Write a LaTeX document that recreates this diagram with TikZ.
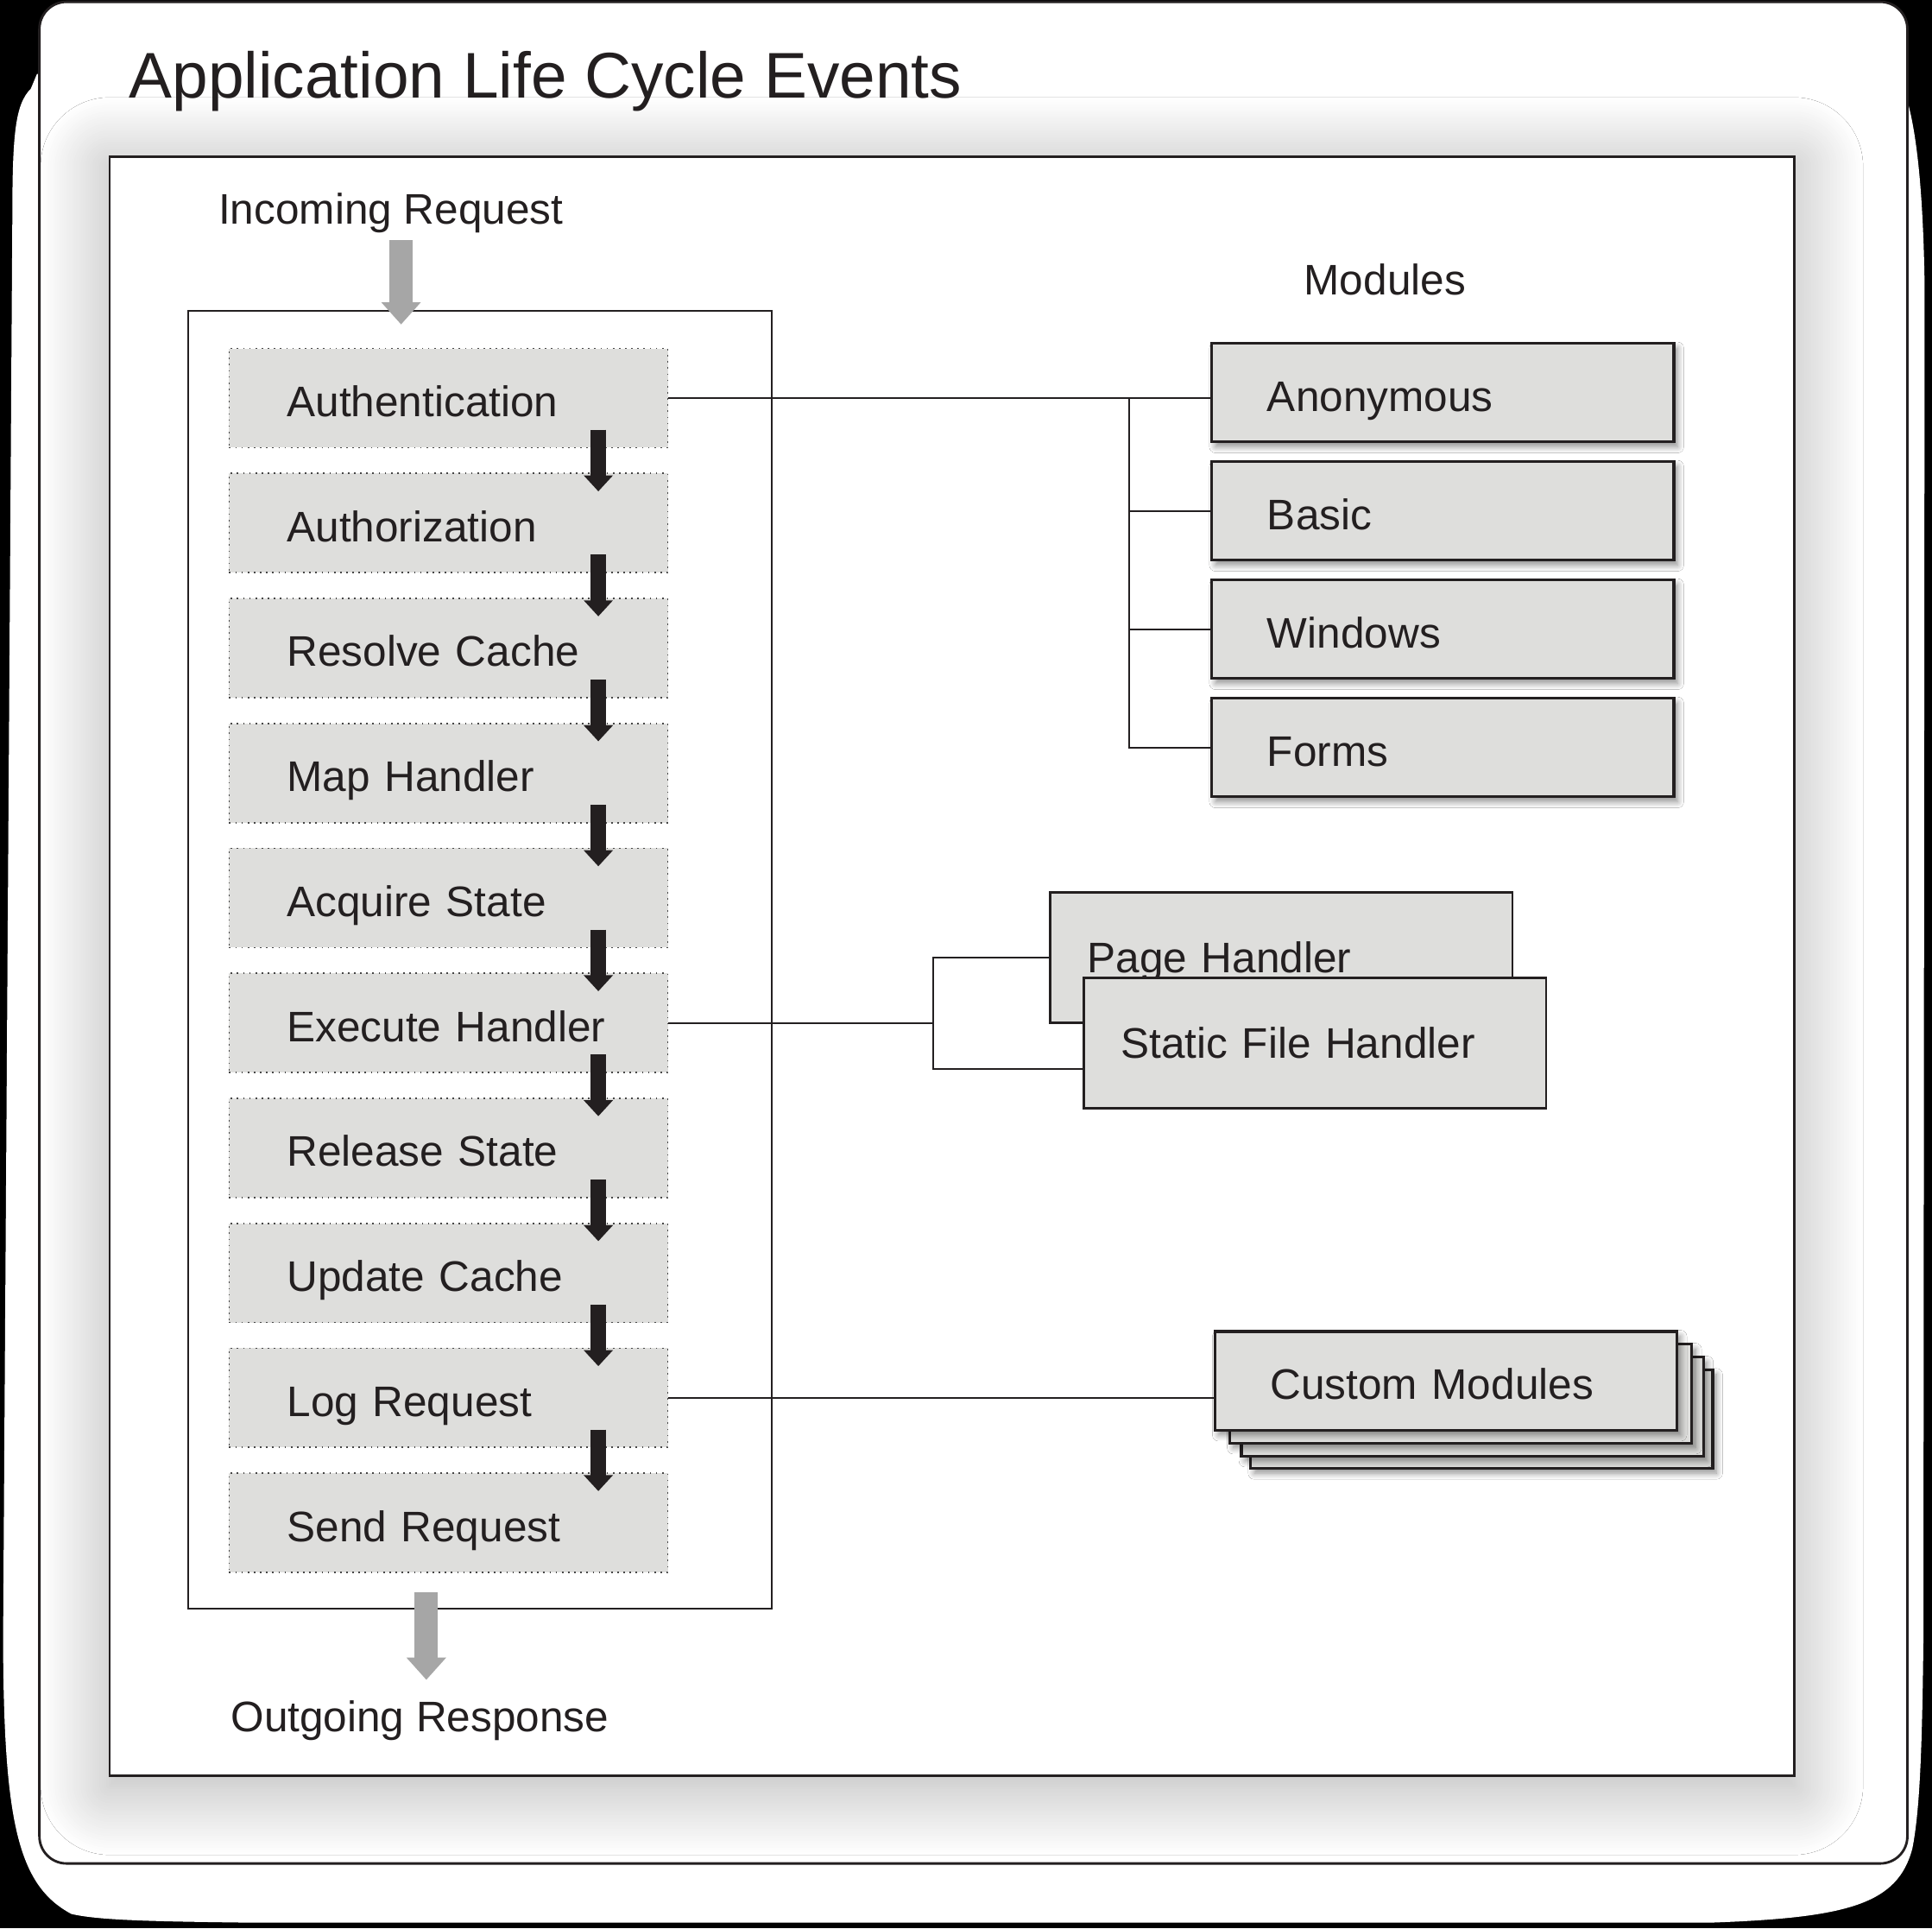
\documentclass[tikz,border=0pt]{standalone}
\usepackage{fontspec}
\setmainfont{Liberation Sans}
\usepackage{tikz}
\usetikzlibrary{arrows.meta, calc, shadows.blur}
\definecolor{ink}{RGB}{35,31,32}
\definecolor{boxgray}{RGB}{222,222,220}
\definecolor{dotgray}{RGB}{70,70,70}
\definecolor{arrowgray}{RGB}{166,166,166}
\newcommand{\bodyfont}{\fontsize{17.35pt}{20pt}\selectfont}
\newcommand{\titlefont}{\fontsize{26.2pt}{30pt}\selectfont}
\tikzstyle{stage} = [rectangle, minimum width=178pt, minimum height=40.25pt, text width=131pt, inner xsep=23.5pt, align=left, text height=15pt, text depth=0pt, font=\bodyfont, text=ink, fill=boxgray, draw=dotgray, line width=0.6pt, dash pattern=on 0.6pt off 1.9pt]
\tikzstyle{module} = [rectangle, minimum width=187.5pt, minimum height=40pt, text width=142.5pt, inner xsep=22.5pt, align=left, text height=15pt, text depth=0pt, font=\bodyfont, text=ink, fill=boxgray, draw=ink, line width=1.1pt, blur shadow={shadow xshift=1.5pt, shadow yshift=-2pt, shadow blur radius=2.5pt, shadow blur steps=8, shadow opacity=45}]
\tikzstyle{handler} = [rectangle, minimum width=187.5pt, minimum height=53pt, text width=157.5pt, inner xsep=15pt, align=left, text height=12.4pt, text depth=0pt, font=\bodyfont, text=ink, fill=boxgray, draw=ink, line width=1pt]
\tikzstyle{caption} = [anchor=base west, inner sep=0pt, font=\bodyfont, text=ink]
\tikzstyle{link} = [ink, line width=0.7pt]
\tikzstyle{flow} = [ink, line width=6.5pt, -{Triangle[width=11.5pt, length=6.5pt]}]
\tikzstyle{passage} = [arrowgray, line width=9.5pt, -{Triangle[width=15.5pt, length=9pt]}]

\begin{document}
\begin{tikzpicture}[x=0.5pt, y=-0.5pt, node distance=50.7pt]
\useasboundingbox (0,0) rectangle (1568,1564.5);
% page, shadow and frames
\fill [black] (0,0) rectangle (1568,1564.5);
\fill [white] (30,60) -- (25,72) .. controls (12,85) and (10,110) .. (10,180) -- (2.5,1331) .. controls (3,1480) and (15,1530) .. (58,1553) .. controls (80,1558) and (120,1559) .. (200,1560) -- (1389,1560) .. controls (1500,1556) and (1540,1545) .. (1552,1500) .. controls (1558,1470) and (1560,1420) .. (1561,1331) -- (1562,233) .. controls (1561,160) and (1556,110) .. (1548,82) -- cycle;
\draw [ink, line width=1pt, rounded corners=11pt, fill=white] (32,1.5) rectangle (1548,1512);
\node (title) [anchor=base west, inner sep=0pt, font=\titlefont, text=ink] at (104.5,79.5) {Application Life Cycle Events};
\draw [ink, line width=1pt, fill=white, blur shadow={shadow xshift=0pt, shadow yshift=-4pt, shadow blur radius=28pt, shadow blur steps=30, shadow opacity=32}] (89,127) rectangle (1456,1441);

\node (incoming) [caption] at (177,182) {Incoming Request};
\node (outgoing) [caption] at (187,1405) {Outgoing Response};
\node (modtitle) [caption] at (1058,239) {Modules};

% pipeline of events
\node (pipeline) [draw=ink, line width=0.75pt, minimum width=237pt, minimum height=526.5pt, inner sep=0pt] at (389.5,778.5) {};
\node (authn) [stage] at (364,323) {Authentication};
\node (authz) [stage, below of=authn] {Authorization};
\node (resolve) [stage, below of=authz] {Resolve Cache};
\node (map) [stage, below of=resolve] {Map Handler};
\node (acquire) [stage, below of=map] {Acquire State};
\node (exec) [stage, below of=acquire] {Execute Handler};
\node (release) [stage, below of=exec] {Release State};
\node (update) [stage, below of=release] {Update Cache};
\node (log) [stage, below of=update] {Log Request};
\node (send) [stage, below of=log] {Send Request};
\foreach \from/\to in {authn/authz, authz/resolve, resolve/map, map/acquire, acquire/exec, exec/release, release/update, update/log, log/send}
  \draw [flow] ($(\from.south east)!0.5!(\to.north east)+(-57,-25)$) -- ($(\from.south east)!0.5!(\to.north east)+(-57,25)$);

\coordinate (inflow) at (325.5,195);
\coordinate (outflow) at (346,1292);
\draw [passage] (inflow) -- ($(inflow |- pipeline.north)+(0,12)$);
\draw [passage] (outflow) -- ++(0,71);

% modules
\node (anon) [module] at (1171,318.5) {Anonymous};
\node (basic) [module, node distance=48pt, below of=anon] {Basic};
\node (windows) [module, node distance=48pt, below of=basic] {Windows};
\node (forms) [module, node distance=48pt, below of=windows] {Forms};
\coordinate (authbus) at ($(authn.east)+(374,0)$);
\draw [link] (authn.east) -- (authn.east -| anon.west);
\draw [link] (authbus) |- (forms.west);
\draw [link] (authbus |- basic.west) -- (basic.west);
\draw [link] (authbus |- windows.west) -- (windows.west);

% handlers
\node (page) [handler] at (1040,777) {Page Handler};
\node (static) [handler] at (1067.3,846.3) {Static File Handler};
\coordinate (execbus) at ($(exec.east)+(215,0)$);
\draw [link] (exec.east) -- (execbus);
\draw [link] (page.west) -| (execbus) |- ([yshift=-10.5pt]static.west);

% custom modules
\node (custom3) [module] at (1202.5,1151.3) {};
\node (custom2) [module] at (1195,1141.3) {};
\node (custom1) [module] at (1185.5,1130.8) {};
\node (custom) [module] at (1173.5,1120.3) {Custom Modules};
\draw [link] (log.east) -- (log.east -| custom.west);
\end{tikzpicture}
\end{document}
